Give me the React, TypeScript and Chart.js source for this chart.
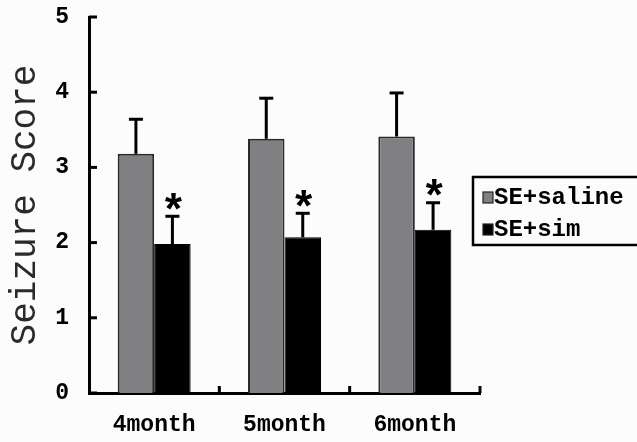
import React, { useEffect, useRef } from "react";
import { Chart, registerables } from "chart.js";

Chart.register(...registerables);

const categories = ["4month", "5month", "6month"];
const salineValues = [3.18, 3.38, 3.41];
const salineErrors = [0.46, 0.54, 0.58];
const simValues = [1.98, 2.07, 2.17];
const simErrors = [0.37, 0.32, 0.36];
const simSignificant = [true, true, true];
const yTicks = [0, 1, 2, 3, 4, 5];
const seriesLabels = ["SE+saline", "SE+sim"];

const errorsByDataset = [salineErrors, simErrors];
const starsByDataset = [null, simSignificant];

const TICK_FONT = "'Liberation Mono', 'DejaVu Sans Mono', monospace";

const customPlugin = {
  id: "custom",
  beforeDraw(chart: any) {
    const { ctx, width, height } = chart;
    ctx.save();
    ctx.fillStyle = "#fcfcfd";
    ctx.fillRect(0, 0, width, height);
    ctx.restore();
  },
  afterDatasetsDraw(chart: any) {
    const { ctx, chartArea } = chart;
    const yScale = chart.scales.y;
    ctx.save();
    chart.data.datasets.forEach((ds: any, di: number) => {
      const meta = chart.getDatasetMeta(di);
      const errs = errorsByDataset[di];
      meta.data.forEach((bar: any, i: number) => {
        const v = ds.data[i];
        const top = yScale.getPixelForValue(v + errs[i]);
        ctx.strokeStyle = "#000";
        ctx.lineWidth = 3;
        ctx.beginPath();
        ctx.moveTo(bar.x, bar.y);
        ctx.lineTo(bar.x, top);
        ctx.stroke();
        ctx.beginPath();
        ctx.moveTo(bar.x - 7, top);
        ctx.lineTo(bar.x + 7, top);
        ctx.stroke();
        const stars = starsByDataset[di];
        if (stars && stars[i]) {
          ctx.fillStyle = "#000";
          ctx.font = "bold 44px 'Liberation Mono', monospace";
          ctx.textAlign = "center";
          ctx.textBaseline = "alphabetic";
          const m = ctx.measureText("*");
          const cy = top - 15;
          const off = (m.actualBoundingBoxAscent - m.actualBoundingBoxDescent) / 2;
          ctx.fillText("*", bar.x + 1, cy + off);
        }
      });
    });
    ctx.strokeStyle = "#000";
    ctx.lineWidth = 3;
    yScale.ticks.forEach((t: any) => {
      const y = yScale.getPixelForValue(t.value);
      ctx.beginPath();
      ctx.moveTo(chartArea.left, y);
      ctx.lineTo(chartArea.left + 8, y);
      ctx.stroke();
    });
    const n = chart.data.labels.length;
    const w = (chartArea.right - chartArea.left) / n;
    for (let i = 1; i <= n; i++) {
      const x = chartArea.left + i * w;
      ctx.beginPath();
      ctx.moveTo(x, chartArea.bottom);
      ctx.lineTo(x, chartArea.bottom - 7);
      ctx.stroke();
    }
    ctx.restore();
  },
  afterDraw(chart: any) {
    const { ctx, chartArea } = chart;
    ctx.save();
    const left = chartArea.right - 7;
    const top = 177;
    ctx.strokeStyle = "#000";
    ctx.lineWidth = 2.5;
    ctx.strokeRect(left, top, 180, 68);
    ctx.font = "bold 24px " + TICK_FONT;
    ctx.textAlign = "left";
    ctx.textBaseline = "middle";
    const rows = [197, 229];
    chart.data.datasets.forEach((ds: any, di: number) => {
      const cy = rows[di];
      ctx.fillStyle = ds.backgroundColor;
      ctx.fillRect(left + 10, cy - 5, 10, 11);
      ctx.lineWidth = 1.2;
      ctx.strokeStyle = "#222";
      ctx.strokeRect(left + 10, cy - 5, 10, 11);
      ctx.fillStyle = "#000";
      ctx.fillText(ds.label, left + 21, cy + 1);
    });
    ctx.restore();
  },
};

export default function App() {
  const ref = useRef<HTMLCanvasElement | null>(null);
  useEffect(() => {
    if (!ref.current) return;
    const chart = new Chart(ref.current, {
      type: "bar",
      data: {
        labels: categories,
        datasets: [
          {
            label: seriesLabels[0],
            data: salineValues,
            backgroundColor: "#808082",
            borderColor: "#262a2a",
            borderWidth: 2,
            categoryPercentage: 0.56,
            barPercentage: 1,
          },
          {
            label: seriesLabels[1],
            data: simValues,
            backgroundColor: "#000000",
            borderColor: "#000000",
            borderWidth: 1,
            categoryPercentage: 0.56,
            barPercentage: 1,
          },
        ],
      },
      options: {
        animation: false,
        responsive: true,
        maintainAspectRatio: false,
        devicePixelRatio: 1,
        layout: { padding: { top: 17, right: 157, bottom: 0, left: 0 } },
        plugins: {
          legend: { display: false },
          tooltip: { enabled: false },
        },
        scales: {
          x: {
            grid: { display: false },
            border: { display: true, color: "#000", width: 3 },
            ticks: {
              color: "#000",
              padding: 10,
              font: { family: TICK_FONT, size: 23, weight: "bold" },
            },
            afterFit: (s: any) => {
              s.height = 49;
              s.paddingLeft = 0;
              s.paddingRight = 0;
            },
          },
          y: {
            min: 0,
            max: 5,
            afterBuildTicks: (scale: any) => {
              scale.ticks = yTicks.map((v) => ({ value: v }));
            },
            afterFit: (s: any) => {
              s.width = 89;
              s.paddingTop = 0;
              s.paddingBottom = 0;
            },
            grid: { display: false },
            border: { display: true, color: "#000", width: 3 },
            ticks: {
              color: "#000",
              padding: 12,
              font: { family: TICK_FONT, size: 23, weight: "bold" },
            },
            title: {
              display: true,
              text: "Seizure Score",
              color: "#2a2a2a",
              padding: { top: 4, bottom: 0 },
              font: { family: TICK_FONT, size: 36, weight: "normal" },
            },
          },
        },
      },
      plugins: [customPlugin],
    });
    return () => chart.destroy();
  }, []);
  return (
    <div style={{ position: "fixed", left: 0, top: 0, width: 637, height: 442 }}>
      <canvas ref={ref} />
    </div>
  );
}
